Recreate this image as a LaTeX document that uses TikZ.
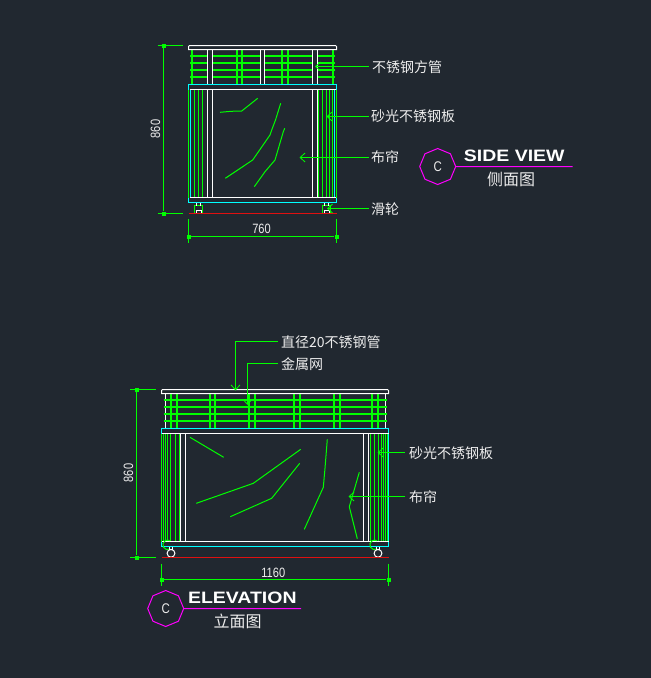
\documentclass[tikz,border=0pt]{standalone}
\usepackage{fontspec}
\usepackage{graphicx}
\setmainfont{Noto Sans CJK SC}
\newfontfamily\latinfont{Liberation Sans}
\usetikzlibrary{arrows.meta,shapes.geometric}
\definecolor{bg}{HTML}{212830}
\definecolor{cadgreen}{HTML}{00FF00}
\definecolor{cadcyan}{HTML}{00FFFF}
\definecolor{cadmag}{HTML}{FF00FF}
\definecolor{cadred}{HTML}{E01010}
\definecolor{cadtext}{HTML}{EDEDED}
\newcommand{\narrowed}[1]{\scalebox{.82}[1]{#1}}
\tikzset{
  wl/.style={draw=white,line width=1pt},
  gl/.style={draw=cadgreen,line width=1pt},
  gp/.style={draw=cadgreen,line width=1.25pt},
  gt/.style={draw=cadgreen,line width=2pt},
  cl/.style={draw=cadcyan,line width=1pt},
  rl/.style={draw=cadred,line width=1pt},
  ml/.style={draw=cadmag,line width=1pt},
  curtain/.style={draw=cadgreen,line width=1pt},
  leader/.style={draw=cadgreen,line width=1pt,-{Straight Barb[length=5pt,width=9pt,line width=.8pt]}},
  labeltext/.style={font=\fontsize{14}{14}\selectfont,text=cadtext,inner sep=0pt,anchor=west},
  dimtext/.style={font=\latinfont\fontsize{13.5}{13.5}\selectfont,text=cadtext,inner sep=0pt},
  tick/.style={fill=cadgreen,draw=none,minimum size=4pt,inner sep=0pt,rectangle},
  titlebig/.style={font=\latinfont\bfseries\fontsize{16.5}{16.5}\selectfont,text=white,inner sep=0pt,xscale=1.18,transform shape},
  titlesub/.style={font=\fontsize{16}{16}\selectfont,text=cadtext,inner sep=0pt},
  octa/.style={regular polygon,regular polygon sides=8,shape border rotate=22.5,draw=cadmag,line width=1pt,minimum size=36pt,inner sep=0pt,font=\latinfont\fontsize{14}{14}\selectfont,text=cadtext}
}
\begin{document}
\begin{tikzpicture}[x=1pt,y=-1pt]
\path[fill=bg] (0,0) rectangle (651,678);
\useasboundingbox (0,0) rectangle (651,678);

%%% SIDE VIEW
\foreach \y in {56,63,70,77}{
  \draw[gt] (190,\y) -- (207.5,\y) (212.5,\y) -- (260.5,\y) (264.5,\y) -- (312.5,\y) (317.5,\y) -- (335,\y);
}
\foreach \x in {192,237,242,282,288,333}{ \draw[gt] (\x,49.5) -- (\x,84.5); }
\foreach \x in {207.5,212.5,260.5,264.5,312.5,317.5}{ \draw[wl] (\x,49.5) -- (\x,84.5); }
\draw[wl] (188.5,46.5) -- (189.5,45.5) -- (335.5,45.5) -- (336.5,46.5) -- (336.5,49.5) -- (188.5,49.5) -- cycle;
\draw[cl] (188.5,84.5) rectangle (336.5,202.5);
\draw[cl] (190.5,89.5) -- (190.5,197.5) (334.5,89.5) -- (334.5,197.5);
\foreach \x in {188.5,194.5,198.5,202.5,318.5,322.5,326.5,329.5,332.5,336.5}{ \draw[gl] (\x,89.5) -- (\x,197.5); }
\foreach \x in {207.5,212.5,312.5,317.5}{ \draw[wl] (\x,89.5) -- (\x,197.5); }
\draw[wl] (189.5,89.5) -- (335.5,89.5) (189.5,197.5) -- (335.5,197.5);
\draw[curtain] (220,112.3) -- (231,111.3) -- (241.7,111) -- (257.7,98.3);
\draw[curtain] (280.7,103.3) -- (275.5,120) -- (271.7,130) -- (270,135) -- (252.7,160) -- (225.3,178.3);
\draw[curtain] (284.7,128.3) -- (283.3,131.7) -- (275,160) -- (265,171.7) -- (254.3,186.7);
\foreach \x in {198.5,326.5}{
  \draw[gl] (\x-4,213.5) -- (\x-4,205.5) -- (\x+4,205.5) -- (\x+4,213.5);
  \draw[wl] (\x-2,203) -- (\x-2,205.5) (\x+2,203) -- (\x+2,205.5) (\x-2.5,213) -- (\x-2.5,210.5) -- (\x+2.5,210.5) -- (\x+2.5,213);
}
\draw[rl] (188.5,213.5) -- (336.5,213.5);
\node[tick] (sa) at (163.5,45.5) {};
\node[tick] (sb) at (163.5,213.5) {};
\draw[gl] (sa) -- (sb);
\draw[gl] (157.5,45.5) -- (182.5,45.5) (157.5,213.5) -- (182.5,213.5);
\node[dimtext,rotate=90] (sh) at (155.5,129) {\narrowed{860}};
\node[tick] (sc) at (188.5,236.5) {};
\node[tick] (sd) at (336.5,236.5) {};
\draw[gl] (sc) -- (sd);
\draw[gl] (188.5,219) -- (188.5,243) (336.5,219) -- (336.5,243);
\node[dimtext] (sw) at (261.5,229) {\narrowed{760}};
\node[labeltext] (l1) at (372,67.5) {不锈钢方管};
\node[labeltext] (l2) at (371,116) {砂光不锈钢板};
\node[labeltext] (l3) at (371,157.5) {布帘};
\node[labeltext] (l4) at (371,209) {滑轮};
\coordinate (t1) at (315,66.5);
\coordinate (t2) at (326.5,116.5);
\coordinate (t3) at (299.5,157.5);
\coordinate (t4) at (327,208.5);
\coordinate (e1) at (369,66.5);
\coordinate (e2) at (369,116.5);
\coordinate (e3) at (369,157.5);
\coordinate (e4) at (369,208.5);
\draw[leader] (e1) -- (t1);
\draw[leader] (e2) -- (t2);
\draw[leader] (e3) -- (t3);
\draw[leader] (e4) -- (t4);
\node[octa] (c1) at (437.7,166.5) {\narrowed{C}};
\coordinate (m1) at (572.7,166.5);
\draw[ml] (c1.east) -- (m1);
\node[titlebig] (tt1) at (514.3,156) {SIDE VIEW};
\node[titlesub] (ts1) at (511,179) {侧面图};

%%% ELEVATION
\foreach \x in {165.5,385.5}{ \draw[wl] (\x,393.5) -- (\x,428.5); }
\foreach \y in {400,407,414,421}{ \draw[gt] (163.5,\y) -- (386.5,\y); }
\foreach \x in {171,177,210,215,249,255,294,300,334,340,372,378}{ \draw[gt] (\x,393.5) -- (\x,428.5); }
\draw[wl] (161.5,390.5) -- (162.5,389.5) -- (387.5,389.5) -- (388.5,390.5) -- (388.5,393.5) -- (161.5,393.5) -- cycle;
\draw[cl] (161.5,428.5) rectangle (388.5,546.5);
\foreach \x in {161.5,163.5,165.5,167.5,170.5,175.5,179.5,370.5,374.5,378.5,381.5,383.5,385.5,387.5}{ \draw[gp] (\x,433.5) -- (\x,541.5); }
\foreach \x in {180.5,185.5,363.5,368.5}{ \draw[wl] (\x,433.5) -- (\x,541.5); }
\draw[wl] (161.5,433.5) -- (388.5,433.5) (161.5,541.5) -- (388.5,541.5);
\draw[curtain] (190,437.3) -- (223.7,457.3);
\draw[curtain] (196.3,503.3) -- (253.3,483.3) -- (300.7,449.3);
\draw[curtain] (230.3,516.7) -- (271.7,498.3) -- (299.7,463.3);
\draw[curtain] (327.3,439.3) -- (325,468.3) -- (323.3,487.3) -- (304.3,529.3);
\draw[curtain] (359.3,472.3) -- (349.3,506.7) -- (357.3,538.7);
\foreach \x in {171,378}{
  \draw[gl] (\x-1,549) arc[start angle=60,end angle=300,radius=4.8];
  \draw[wl] (\x,553.3) circle[radius=3.9];
  \draw[wl] (\x-1.5,547) -- (\x-1.5,549.5) (\x+1.5,547) -- (\x+1.5,549.5);
}
\draw[rl] (161.5,557.5) -- (388.5,557.5);
\node[tick] (ea) at (136.5,389.5) {};
\node[tick] (eb) at (136.5,557.5) {};
\draw[gl] (ea) -- (eb);
\draw[gl] (130,389.5) -- (155.5,389.5) (130,557.5) -- (155.5,557.5);
\node[dimtext,rotate=90] (eh) at (128.5,473) {\narrowed{860}};
\node[tick] (ec) at (161.5,579.5) {};
\node[tick] (ed) at (388.5,579.5) {};
\draw[gl] (ec) -- (ed);
\draw[gl] (161.5,563.5) -- (161.5,585.5) (388.5,563.5) -- (388.5,585.5);
\node[dimtext] (ew) at (273.3,573) {\narrowed{1160}};
\node[labeltext] (l5) at (281,342) {直径20不锈钢管};
\node[labeltext] (l6) at (281,364) {金属网};
\node[labeltext] (l7) at (409,453) {砂光不锈钢板};
\node[labeltext] (l8) at (409,497) {布帘};
\coordinate (t5) at (235.5,390.5);
\coordinate (k5) at (235.5,341.5);
\coordinate (e5) at (277.5,341.5);
\coordinate (t6) at (247.5,405);
\coordinate (k6) at (247.5,363.5);
\coordinate (e6) at (277.5,363.5);
\coordinate (t7) at (377.5,452.5);
\coordinate (e7) at (405,452.5);
\coordinate (t8) at (348.5,496.5);
\coordinate (e8) at (405,496.5);
\draw[leader] (e5) -- (k5) -- (t5);
\draw[leader] (e6) -- (k6) -- (t6);
\draw[leader] (e7) -- (t7);
\draw[leader] (e8) -- (t8);
\node[octa] (c2) at (165.7,608.5) {\narrowed{C}};
\coordinate (m2) at (301,608.5);
\draw[ml] (c2.east) -- (m2);
\node[titlebig] (tt2) at (242.3,597.7) {ELEVATION};
\node[titlesub] (ts2) at (237.7,621.7) {立面图};
\end{tikzpicture}
\end{document}
